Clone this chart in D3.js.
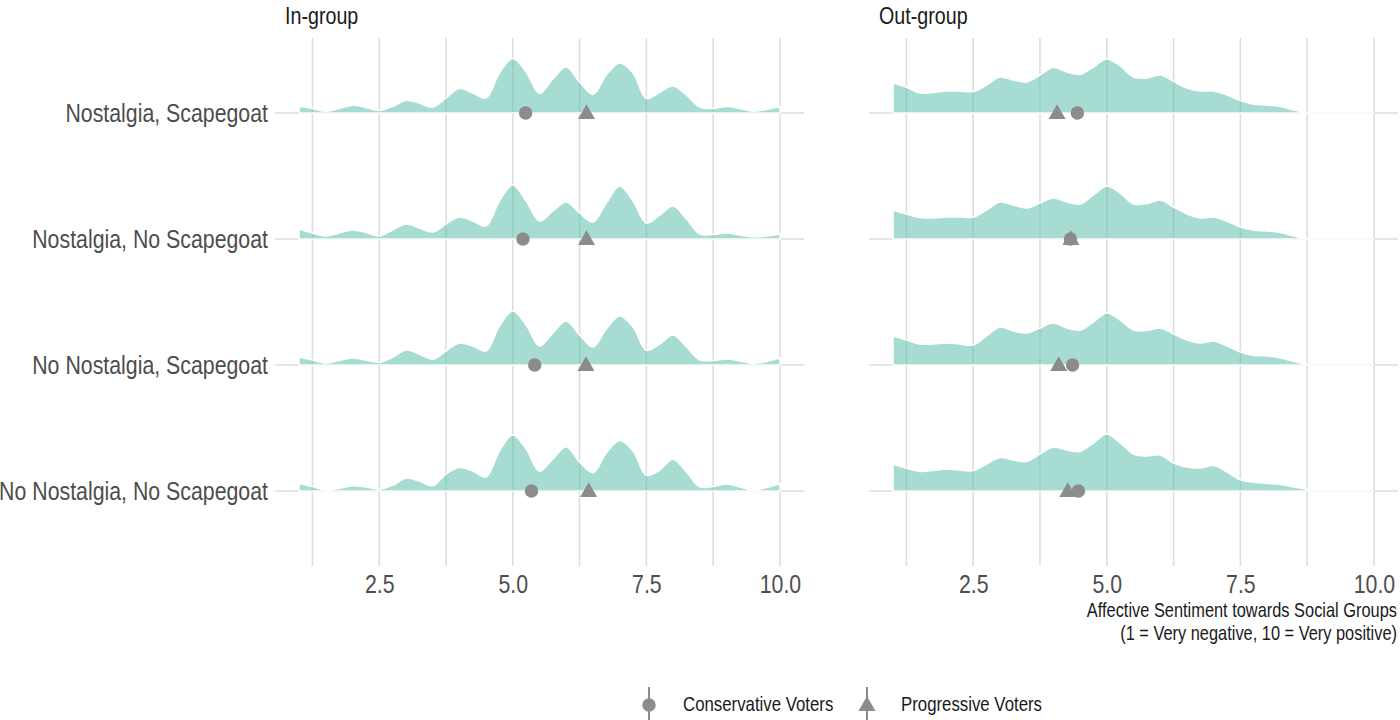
<!DOCTYPE html>
<html>
<head>
<meta charset="utf-8">
<script src="https://cdn.jsdelivr.net/npm/d3@7"></script>
<style>
  body { margin: 0; background: #fff; }
  svg { display: block; font-family: "Liberation Sans", Arial, sans-serif; }
</style>
</head>
<body>
<div id="chart"></div>
<script>
// conditions, top row first
const conditions = ["Nostalgia, Scapegoat", "Nostalgia, No Scapegoat", "No Nostalgia, Scapegoat", "No Nostalgia, No Scapegoat"];
const panels = ["In-group", "Out-group"];

const densityX = [1, 1.25, 1.5, 1.75, 2, 2.25, 2.5, 2.75, 3, 3.25, 3.5, 3.75, 4, 4.25, 4.5, 4.75, 5, 5.25, 5.5, 5.75,
                  6, 6.25, 6.5, 6.75, 7, 7.25, 7.5, 7.75, 8, 8.25, 8.5, 8.75, 9, 9.25, 9.5, 9.75, 10];

// estimated densities, one row per condition
const inGroupDensity = [
  [0.034, 0.022, 0.009, 0.023, 0.039, 0.028, 0.012, 0.033, 0.063, 0.050, 0.029, 0.075, 0.123, 0.100, 0.075, 0.200, 0.273, 0.205, 0.098, 0.170, 0.230, 0.155, 0.093, 0.190, 0.250, 0.200, 0.073, 0.104, 0.135, 0.090, 0.030, 0.023, 0.032, 0.023, 0.009, 0.018, 0.031],
  [0.050, 0.030, 0.015, 0.030, 0.045, 0.033, 0.015, 0.045, 0.075, 0.055, 0.035, 0.075, 0.110, 0.090, 0.065, 0.190, 0.270, 0.190, 0.090, 0.140, 0.185, 0.130, 0.085, 0.180, 0.265, 0.190, 0.080, 0.120, 0.165, 0.100, 0.025, 0.023, 0.030, 0.020, 0.010, 0.015, 0.025],
  [0.040, 0.025, 0.010, 0.023, 0.035, 0.025, 0.013, 0.038, 0.075, 0.055, 0.028, 0.070, 0.110, 0.095, 0.070, 0.195, 0.270, 0.200, 0.095, 0.160, 0.220, 0.150, 0.090, 0.180, 0.245, 0.190, 0.073, 0.105, 0.150, 0.090, 0.025, 0.023, 0.030, 0.020, 0.008, 0.018, 0.035],
  [0.038, 0.023, 0.004, 0.013, 0.026, 0.020, 0.009, 0.028, 0.064, 0.050, 0.026, 0.085, 0.117, 0.100, 0.070, 0.200, 0.280, 0.210, 0.099, 0.160, 0.221, 0.145, 0.092, 0.190, 0.252, 0.200, 0.078, 0.105, 0.159, 0.095, 0.021, 0.023, 0.035, 0.020, 0.004, 0.018, 0.035]
];
const outGroupDensity = [
  [0.150, 0.129, 0.100, 0.103, 0.110, 0.110, 0.107, 0.140, 0.180, 0.165, 0.155, 0.190, 0.227, 0.205, 0.193, 0.230, 0.270, 0.235, 0.180, 0.175, 0.190, 0.158, 0.125, 0.110, 0.110, 0.090, 0.062, 0.044, 0.040, 0.033, 0.015, 0, 0, 0, 0, 0, 0],
  [0.145, 0.125, 0.108, 0.105, 0.110, 0.110, 0.110, 0.145, 0.185, 0.170, 0.155, 0.180, 0.205, 0.185, 0.175, 0.220, 0.265, 0.230, 0.175, 0.178, 0.195, 0.160, 0.125, 0.105, 0.110, 0.088, 0.060, 0.045, 0.040, 0.033, 0.015, 0, 0, 0, 0, 0, 0],
  [0.145, 0.125, 0.105, 0.105, 0.110, 0.105, 0.100, 0.145, 0.190, 0.170, 0.160, 0.185, 0.210, 0.185, 0.175, 0.215, 0.260, 0.225, 0.175, 0.173, 0.185, 0.155, 0.125, 0.110, 0.120, 0.095, 0.065, 0.048, 0.045, 0.035, 0.018, 0.003, 0, 0, 0, 0, 0],
  [0.135, 0.114, 0.098, 0.103, 0.110, 0.105, 0.102, 0.135, 0.167, 0.155, 0.148, 0.185, 0.220, 0.205, 0.198, 0.240, 0.285, 0.240, 0.185, 0.175, 0.180, 0.140, 0.120, 0.115, 0.127, 0.095, 0.056, 0.044, 0.038, 0.033, 0.020, 0.008, 0, 0, 0, 0, 0]
];

// group means
const conservativeIn = [5.24, 5.19, 5.41, 5.35];
const progressiveIn = [6.38, 6.38, 6.37, 6.42];
const conservativeOut = [4.45, 4.32, 4.36, 4.47];
const progressiveOut = [4.07, 4.33, 4.10, 4.27];

const majorTicks = [2.5, 5, 7.5, 10];
const minorTicks = [1.25, 3.75, 6.25, 8.75];
const legendLabels = ["Conservative Voters", "Progressive Voters"];
const xTitle = ["Affective Sentiment towards Social Groups", "(1 = Very negative, 10 = Very positive)"];

const width = 1400, height = 720;
const gridColor = '#dcdcdc';
const pointColor = '#8c8c8c';
const narrow = 0.82; // the reference uses a condensed face

const svg = d3.select('#chart').append('svg')
    .attr('width', width)
    .attr('height', height);

const panelX = [[275, 804], [869, 1398]];
const panelTop = 38, panelBottom = 566;

const y = d3.scalePoint().domain(conditions).range([113, 491]);
const h = d3.scaleLinear().domain([0, 0.3]).range([0, 60]);

const circle = d3.symbol().type(d3.symbolCircle).size(141);
const triangle = d3.symbol().type(d3.symbolTriangle).size(125);

// text squeezed horizontally around its anchor point
function narrowText(parent, x, yy) {
    return parent.append('text')
        .attr('transform', `translate(${x},0) scale(${narrow},1)`)
        .attr('x', 0)
        .attr('y', yy);
}

panels.forEach((title, p) => {
    const x = d3.scaleLinear().domain([0.55, 10.45]).range(panelX[p]);
    const g = svg.append('g');

    g.selectAll('line.vgrid')
        .data(minorTicks.concat(majorTicks))
        .enter()
        .append('line')
        .attr('class', 'vgrid')
        .attr('x1', d => x(d))
        .attr('x2', d => x(d))
        .attr('y1', panelTop)
        .attr('y2', panelBottom)
        .attr('stroke', gridColor)
        .attr('stroke-width', 1.5);

    g.selectAll('line.hgrid')
        .data(conditions)
        .enter()
        .append('line')
        .attr('class', 'hgrid')
        .attr('x1', panelX[p][0])
        .attr('x2', panelX[p][1])
        .attr('y1', d => y(d))
        .attr('y2', d => y(d))
        .attr('stroke', gridColor)
        .attr('stroke-width', 1.5);

    const dens = p === 0 ? inGroupDensity : outGroupDensity;
    const area = d3.area()
        .x((d, i) => x(densityX[i]))
        .y0(0)
        .y1(d => -h(d))
        .curve(d3.curveCatmullRom.alpha(0.5));

    conditions.forEach((c, r) => {
        g.append('path')
            .datum(dens[r])
            .attr('transform', `translate(0,${y(c)})`)
            .attr('d', area)
            .attr('fill', '#5fbfae')
            .attr('fill-opacity', 0.55)
            .attr('stroke', 'white')
            .attr('stroke-width', 1.5);
    });

    const cons = p === 0 ? conservativeIn : conservativeOut;
    const prog = p === 0 ? progressiveIn : progressiveOut;

    g.selectAll('path.cons')
        .data(cons)
        .enter()
        .append('path')
        .attr('class', 'cons')
        .attr('d', circle)
        .attr('transform', (d, i) => `translate(${x(d)},${y(conditions[i])})`)
        .attr('fill', pointColor);

    g.selectAll('path.prog')
        .data(prog)
        .enter()
        .append('path')
        .attr('class', 'prog')
        .attr('d', triangle)
        .attr('transform', (d, i) => `translate(${x(d)},${y(conditions[i]) + 1})`)
        .attr('fill', pointColor);

    const axis = d3.axisBottom(x)
        .tickValues(majorTicks)
        .tickSize(0)
        .tickFormat(d3.format('.1f'));
    const ax = g.append('g')
        .attr('transform', `translate(0,${panelBottom})`)
        .call(axis);
    ax.attr('font-family', null).attr('font-size', null);
    ax.select('.domain').remove();
    ax.selectAll('text')
        .attr('y', 27)
        .attr('dy', null)
        .attr('transform', `scale(${narrow},1)`)
        .attr('font-size', 26)
        .attr('fill', '#4d4d4d');

    narrowText(g, panelX[p][0] + 10, 24)
        .attr('font-size', 24)
        .attr('fill', '#1a1a1a')
        .text(title);
});

// y labels
conditions.forEach(c => {
    narrowText(svg, 268, y(c) + 9)
        .attr('text-anchor', 'end')
        .attr('font-size', 26)
        .attr('fill', '#4d4d4d')
        .text(c);
});

// x title
xTitle.forEach((t, i) => {
    narrowText(svg, 1397, 617 + i * 23)
        .attr('text-anchor', 'end')
        .attr('font-size', 20)
        .attr('fill', '#1a1a1a')
        .text(t);
});

// legend
const legendX = [649, 867];
const lg = svg.append('g');
legendLabels.forEach((label, i) => {
    lg.append('line')
        .attr('x1', legendX[i]).attr('x2', legendX[i])
        .attr('y1', 687).attr('y2', 722)
        .attr('stroke', pointColor)
        .attr('stroke-width', 2);
    lg.append('path')
        .attr('d', i === 0 ? circle() : triangle())
        .attr('transform', `translate(${legendX[i]},${i === 0 ? 705 : 706})`)
        .attr('fill', pointColor);
    narrowText(lg, legendX[i] + 34, 711)
        .attr('font-size', 20.5)
        .attr('fill', '#1a1a1a')
        .text(label);
});
</script>
</body>
</html>
